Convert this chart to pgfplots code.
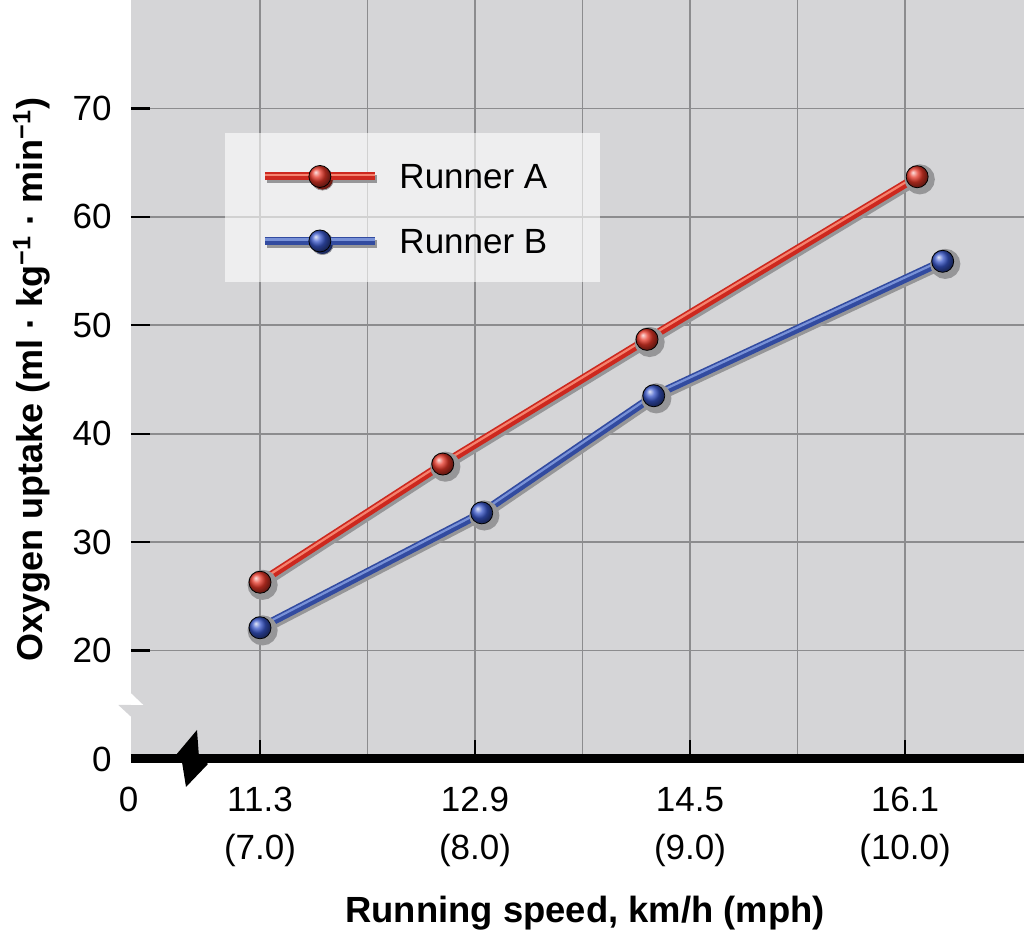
\documentclass[border=0pt]{standalone}
\usepackage{fontspec}
\setmainfont{Liberation Sans}
\usepackage{pgfplots}
\pgfplotsset{compat=1.18}
\definecolor{bg}{RGB}{213,213,215}
\definecolor{gridc}{RGB}{140,140,142}
\definecolor{rA}{RGB}{205,40,30}
\definecolor{rAb}{RGB}{230,55,40}
\definecolor{rAl}{RGB}{245,130,110}
\definecolor{bB}{RGB}{50,75,160}
\definecolor{bBb}{RGB}{55,85,200}
\definecolor{bBl}{RGB}{120,145,215}
\definecolor{shad}{RGB}{150,150,152}
\pgfplotstableread{
x y
11.30 26.3
12.66 37.2
14.18 48.7
16.19 63.7
}\runnerA
\pgfplotstableread{
x y
11.30 22.1
12.95 32.7
14.23 43.5
16.38 55.9
}\runnerB
\begin{document}
\begin{tikzpicture}
\begin{axis}[
 scale only axis, width=446.5pt, height=379.5pt,
 xmin=10.34, xmax=16.985, ymin=10, ymax=80,
 clip=false,
 axis background/.style={fill=bg},
 axis line style={draw=none},
 xtick={11.3,12.9,14.5,16.1},
 xticklabels={{11.3\\(7.0)},{12.9\\(8.0)},{14.5\\(9.0)},{16.1\\(10.0)}},
 minor xtick={12.1,13.7,15.3},
 ytick={10,20,30,40,50,60,70},
 yticklabels={0,20,30,40,50,60,70},
 extra x ticks={10.345}, extra x tick labels={0},
 extra x tick style={major tick length=0pt, grid=none, xticklabel style={xshift=-1.5pt}},
 xmajorgrids, xminorgrids, ymajorgrids,
 grid style={gridc, line width=0.9pt},
 minor tick length=0pt,
 major tick length=9.5pt,
 tick align=inside, xtick pos=bottom, ytick pos=left,
 tick style={black, line width=1.1pt},
 xticklabel style={align=center, inner sep=0pt, yshift=-14pt, font=\fontsize{17.5}{24}\selectfont},
 yticklabel style={inner sep=0pt, xshift=-9.5pt, font=\fontsize{17.5}{21}\selectfont},
 xlabel={Running speed, km/h (mph)},
 ylabel={Oxygen uptake (ml · kg\textsuperscript{−1} · min\textsuperscript{−1})},
 xlabel style={font=\bfseries\fontsize{18.2}{21}\selectfont, at={([xshift=3.75pt,yshift=-82pt]axis description cs:0.5,0)}, anchor=base},
 ylabel style={font=\bfseries\fontsize{18}{21}\selectfont, at={([xshift=-44pt]axis description cs:0,0.5)}, anchor=base},
 legend style={at={(rel axis cs:0.1450,0.724)}, anchor=west, draw=none, fill=none, inner sep=0pt, row sep=19pt,
   font=\fontsize{17.5}{21}\selectfont, nodes={inner sep=0pt, text height=12.5pt, text depth=0pt},
   /tikz/every odd column/.append style={column sep=9pt}},
 legend cell align=left,
]
\fill[white, opacity=0.6] (rel axis cs:0.1053,0.8248) rectangle (rel axis cs:0.5252,0.6285);
% Runner A
\addplot[forget plot, shad, line width=4pt, xshift=1.3pt, yshift=-1.3pt, mark=*, mark size=5.5pt, mark options={draw=none, fill=shad}] table {\runnerA};
\addplot[forget plot, rA, line width=4pt, mark=none] table {\runnerA};
\addplot[forget plot, rAl, line width=1.1pt, yshift=0.7pt, mark=none] table {\runnerA};
\addplot[only marks, mark=ball, ball color=rAb, mark size=5.5pt,
  legend image code/.code={
   \draw[shad, line width=4pt] (1.3pt,-1.3pt) -- (56.3pt,-1.3pt);
   \fill[shad] (28.8pt,-1.3pt) circle (5.5pt);
   \draw[rA, line width=4pt] (0pt,0pt) -- (55pt,0pt);
   \draw[rAl, line width=1.1pt] (0pt,0.7pt) -- (55pt,0.7pt);
   \shade[ball color=rAb] (27.5pt,0pt) circle (5.5pt);
  }] table {\runnerA};
\addlegendentry{Runner A}
% Runner B
\addplot[forget plot, shad, line width=4pt, xshift=1.3pt, yshift=-1.3pt, mark=*, mark size=5.5pt, mark options={draw=none, fill=shad}] table {\runnerB};
\addplot[forget plot, bB, line width=4pt, mark=none] table {\runnerB};
\addplot[forget plot, bBl, line width=1.1pt, yshift=0.7pt, mark=none] table {\runnerB};
\addplot[only marks, mark=ball, ball color=bBb, mark size=5.5pt,
  legend image code/.code={
   \draw[shad, line width=4pt] (1.3pt,-1.3pt) -- (56.3pt,-1.3pt);
   \fill[shad] (28.8pt,-1.3pt) circle (5.5pt);
   \draw[bB, line width=4pt] (0pt,0pt) -- (55pt,0pt);
   \draw[bBl, line width=1.1pt] (0pt,0.7pt) -- (55pt,0.7pt);
   \shade[ball color=bBb] (27.5pt,0pt) circle (5.5pt);
  }] table {\runnerB};
\addlegendentry{Runner B}
% x axis line
\draw[black, line width=4.5pt] (rel axis cs:0,0) -- (rel axis cs:1,0);
% y axis break notch
\fill[white] ([shift={(0pt,32.85pt)}]rel axis cs:0,0) -- ([shift={(6.15pt,27pt)}]rel axis cs:0,0) -- ([shift={(0pt,27pt)}]rel axis cs:0,0) -- cycle;
\fill[bg] ([shift={(0pt,27pt)}]rel axis cs:0,0) -- ([shift={(-6.35pt,27pt)}]rel axis cs:0,0) -- ([shift={(0pt,21.15pt)}]rel axis cs:0,0) -- cycle;
% x axis break bolt
\fill[black] ([shift={(33pt,14.5pt)}]rel axis cs:0,0) -- ([shift={(34pt,1pt)}]rel axis cs:0,0) -- ([shift={(38.5pt,-2.5pt)}]rel axis cs:0,0) -- ([shift={(27.5pt,-14pt)}]rel axis cs:0,0) -- ([shift={(25.5pt,-1.5pt)}]rel axis cs:0,0) -- ([shift={(22.5pt,2pt)}]rel axis cs:0,0) -- cycle;
\end{axis}
\pgfresetboundingbox
\path (current axis.south west) ++(-65.5pt,-86.5pt) rectangle (current axis.north east);
\end{tikzpicture}
\end{document}
